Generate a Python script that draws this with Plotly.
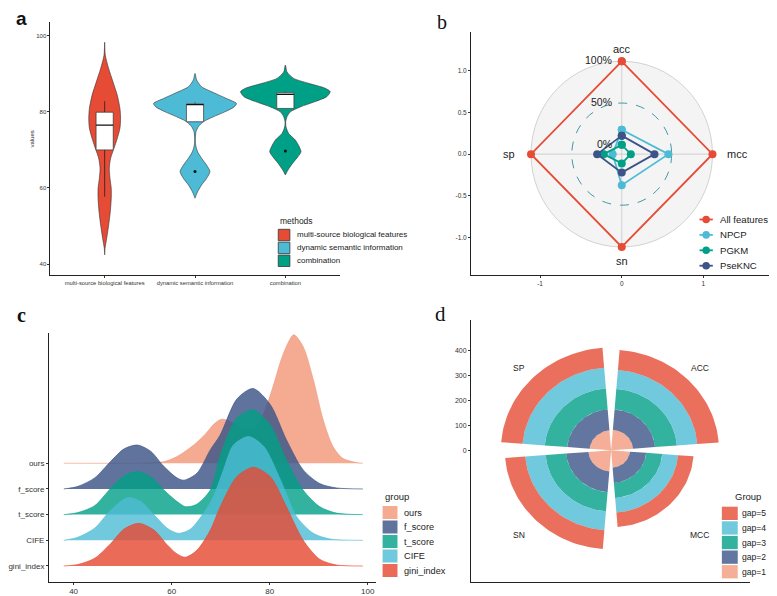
import numpy as np
import plotly.graph_objects as go

# the page body adds an 8px margin, so the figure is placed at (8, 8) of the window
OFF = 8
W, H = 777 - OFF, 596 - OFF
def px(x): return (x - OFF) / W
def py(y): return 1 - (y - OFF) / H

FONT = "Liberation Sans, Arial, sans-serif"
SERIF = "Liberation Serif, Times New Roman, serif"

# ---------------- Panel a : violins + boxes ----------------
methods = ["multi-source biological features", "dynamic semantic information", "combination"]
method_colors = ["#E64B35", "#4DBBD5", "#00A087"]
# violin outlines: value levels (top->bottom) and half widths (x units)
red_levels = [98.3, 94.9, 91.4, 87.9, 84.4, 80.9, 78.3, 75.7, 73.0, 70.4, 67.8, 65.2, 62.5, 59.9, 57.3, 53.7, 50.2, 46.7, 44.1, 42.4]
red_halfw = [0, 0.007, 0.044, 0.092, 0.139, 0.169, 0.176, 0.169, 0.139, 0.103, 0.066, 0.051, 0.059, 0.073, 0.073, 0.062, 0.044, 0.022, 0.004, 0]
blue_levels = [90.1, 88.4, 86.6, 84.9, 83.5, 82.2, 81.3, 80.0, 78.7, 77.4, 76.1, 74.8, 73.0, 71.3, 69.5, 67.8, 66.0, 64.3, 62.5, 60.8, 59.0, 57.3]
blue_halfw = [0, 0.018, 0.073, 0.220, 0.349, 0.459, 0.433, 0.330, 0.202, 0.092, 0.037, 0.011, 0.004, 0.007, 0.029, 0.073, 0.128, 0.165, 0.128, 0.073, 0.029, 0]
green_levels = [92.3, 90.5, 88.8, 87.5, 86.2, 85.3, 84.0, 82.7, 81.3, 80.0, 78.7, 77.4, 76.1, 74.3, 72.6, 70.8, 69.5, 68.2, 66.5, 64.7, 63.4]
green_halfw = [0, 0.018, 0.092, 0.257, 0.441, 0.496, 0.459, 0.330, 0.165, 0.055, 0.018, 0.004, 0.007, 0.037, 0.110, 0.154, 0.173, 0.139, 0.081, 0.029, 0]
box_q1 = [70.0, 77.4, 80.9]
box_median = [76.5, 81.9, 84.6]
box_q3 = [79.9, 82.1, 85.0]
box_lower = [57.7, 77.4, 80.9]
box_upper = [82.8, 82.5, 85.3]
outlier_x = [1, 2]
outlier_y = [64.3, 69.7]
BOX_HALF = 0.095

# ---------------- Panel b : radar ----------------
radar_axes = ["acc", "mcc", "sn", "sp"]
radar_series = ["All features", "NPCP", "PGKM", "PseKNC"]
radar_colors = ["#E64B35", "#4DBBD5", "#00A087", "#3C5488"]
all_features = [1.0, 1.0, 1.0, 1.0]
npcp = [0.18, 0.46, 0.26, 0.0]
pgkm = [0.0, 0.0, 0.0, 0.11]
pseknc = [0.11, 0.29, 0.11, 0.19]
radar_values = [all_features, npcp, pgkm, pseknc]

# ---------------- Panel c : ridgelines ----------------
ridge_groups = ["ours", "f_score", "t_score", "CIFE", "gini_index"]
ridge_colors = ["rgba(243,155,127,0.85)", "rgba(60,84,136,0.82)", "rgba(0,160,135,0.8)",
                "rgba(77,187,213,0.8)", "rgba(230,75,53,0.82)"]
ours_x = [38, 50, 55, 58.4, 61.1, 64.5, 66.8, 68.6, 70.1, 71.6, 73.2, 75, 77, 79, 81.1, 82.1, 83.4, 84.9, 86.8, 88.9, 90.9, 92.9, 94.9, 97.6, 99]
ours_h = [0, 0, 0.01, 0.06, 0.26, 0.71, 1.12, 1.52, 1.71, 1.66, 1.48, 1.30, 1.36, 2.05, 3.25, 3.9, 4.55, 5.0, 4.55, 3.25, 1.69, 0.65, 0.19, 0.03, 0]
f_x = [38, 40.9, 44.3, 47.6, 50.3, 53.0, 55.7, 58.4, 61.1, 62.5, 65.2, 67.9, 69.9, 73.3, 76.6, 80.1, 83.4, 86.8, 90.2, 93.6, 99]
f_h = [0, 0.10, 0.43, 1.08, 1.56, 1.71, 1.47, 0.88, 0.43, 0.34, 0.62, 1.53, 2.1, 3.5, 3.91, 3.29, 1.92, 0.75, 0.21, 0.04, 0]
t_x = [38, 40.9, 44.3, 47.6, 50.3, 53.0, 55.7, 58.4, 61.1, 62.8, 64.9, 67.9, 69.9, 73.3, 76.6, 80.1, 83.4, 86.8, 90.2, 93.6, 99]
t_h = [0, 0.08, 0.35, 1.03, 1.51, 1.68, 1.48, 0.96, 0.51, 0.31, 0.38, 0.96, 2.3, 3.75, 4.08, 3.49, 2.13, 0.96, 0.31, 0.06, 0]
cife_x = [38, 40.9, 44.3, 47.6, 51.0, 53.7, 56.4, 59.1, 61.4, 63.8, 66.5, 68.5, 70.5, 72.6, 75.7, 78.8, 82.2, 85.5, 88.9, 92.3, 99]
cife_h = [0, 0.12, 0.47, 1.18, 1.66, 1.51, 0.99, 0.47, 0.27, 0.43, 1.05, 1.70, 2.7, 3.71, 4.04, 3.65, 2.35, 0.92, 0.27, 0.05, 0]
gini_x = [38, 40.9, 44.3, 47.6, 50.3, 53.3, 56.4, 59.1, 61.1, 62.8, 65.2, 67.9, 69.9, 73.3, 76.7, 80.1, 83.4, 86.8, 90.2, 93.6, 99]
gini_h = [0, 0.06, 0.30, 0.88, 1.44, 1.66, 1.40, 0.82, 0.47, 0.34, 0.62, 1.40, 2.3, 3.48, 3.84, 3.48, 2.31, 1.01, 0.26, 0.04, 0]
ridge_x = [ours_x, f_x, t_x, cife_x, gini_x]
ridge_h = [ours_h, f_h, t_h, cife_h, gini_h]
ridge_base = [5, 4, 3, 2, 1]

# ---------------- Panel d : stacked polar bars ----------------
metrics_d = ["ACC", "MCC", "SN", "SP"]
gap_groups = ["gap=1", "gap=2", "gap=3", "gap=4", "gap=5"]
gap_colors = ["rgba(243,155,127,0.8)", "rgba(60,84,136,0.8)", "rgba(0,160,135,0.8)",
              "rgba(77,187,213,0.8)", "rgba(230,75,53,0.8)"]
gap1 = [82, 70, 85, 80]
gap2 = [82, 61, 83, 84]
gap3 = [82, 60, 77, 84]
gap4 = [76, 59, 76, 83]
gap5 = [80, 58, 75, 80]
gap_values = [gap1, gap2, gap3, gap4, gap5]

fig = go.Figure()

# ---- panel a traces
for i, (lv, hw) in enumerate([(red_levels, red_halfw), (blue_levels, blue_halfw), (green_levels, green_halfw)]):
    xs = [i + w for w in hw] + [i - w for w in hw[::-1]]
    ys = list(lv) + list(lv[::-1])
    fig.add_trace(go.Scatter(x=xs, y=ys, mode="lines", fill="toself", fillcolor=method_colors[i],
                             line=dict(color="#333333", width=0.6, shape="spline", smoothing=0.7),
                             xaxis="x", yaxis="y", showlegend=False, hoverinfo="skip"))
# whiskers
wx, wy = [], []
for i in range(3):
    wx += [i, i, None, i, i, None]
    wy += [box_q3[i], box_upper[i], None, box_q1[i], box_lower[i], None]
fig.add_trace(go.Scatter(x=wx, y=wy, mode="lines", line=dict(color="#222", width=0.8),
                         xaxis="x", yaxis="y", showlegend=False, hoverinfo="skip"))
# boxes
for i in range(3):
    fig.add_trace(go.Scatter(x=[i - BOX_HALF, i + BOX_HALF, i + BOX_HALF, i - BOX_HALF, i - BOX_HALF],
                             y=[box_q1[i], box_q1[i], box_q3[i], box_q3[i], box_q1[i]],
                             mode="lines", fill="toself", fillcolor="white",
                             line=dict(color="#333333", width=0.7),
                             xaxis="x", yaxis="y", showlegend=False, hoverinfo="skip"))
mx, my = [], []
for i, m in enumerate(box_median):
    mx += [i - BOX_HALF, i + BOX_HALF, None]
    my += [m, m, None]
fig.add_trace(go.Scatter(x=mx, y=my, mode="lines", line=dict(color="#111", width=1.4),
                         xaxis="x", yaxis="y", showlegend=False, hoverinfo="skip"))
fig.add_trace(go.Scatter(x=outlier_x, y=outlier_y, mode="markers", marker=dict(color="#111", size=3),
                         xaxis="x", yaxis="y", showlegend=False, hoverinfo="skip"))

# ---- panel b traces
off = 1 / 9
angles = np.deg2rad([0, 90, 180, 270])
for name, vals, col in zip(radar_series, radar_values, radar_colors):
    r = np.array(vals) + off
    xs = list(r * np.sin(angles)) + [r[0] * np.sin(angles[0])]
    ys = list(r * np.cos(angles)) + [r[0] * np.cos(angles[0])]
    fig.add_trace(go.Scatter(x=xs, y=ys, mode="lines+markers", line=dict(color=col, width=1.8),
                             marker=dict(color=col, size=8), xaxis="x2", yaxis="y2",
                             showlegend=False, hoverinfo="skip"))

# ---- panel c traces
for g, xs, hs, b, col in zip(ridge_groups, ridge_x, ridge_h, ridge_base, ridge_colors):
    fig.add_trace(go.Scatter(x=[xs[0], xs[-1]], y=[b, b], mode="lines", line=dict(width=0),
                             xaxis="x3", yaxis="y3", showlegend=False, hoverinfo="skip"))
    fig.add_trace(go.Scatter(x=xs, y=[b + h for h in hs], mode="lines", fill="tonexty", fillcolor=col,
                             line=dict(color=col, width=0.8, shape="spline", smoothing=0.8),
                             xaxis="x3", yaxis="y3", showlegend=False, hoverinfo="skip"))

# ---- panel d traces
cum = np.zeros(4)
for gi, vals in enumerate(gap_values):
    for k in range(4):
        r0, r1 = cum[k], cum[k] + vals[k]
        c = 45 + 90 * k
        th = np.deg2rad(np.linspace(c - 40.5, c + 40.5, 40))
        xs = list(r1 * np.sin(th)) + list(r0 * np.sin(th[::-1]))
        ys = list(r1 * np.cos(th)) + list(r0 * np.cos(th[::-1]))
        fig.add_trace(go.Scatter(x=xs, y=ys, mode="lines", fill="toself", fillcolor=gap_colors[gi],
                                 line=dict(width=0), xaxis="x4", yaxis="y4",
                                 showlegend=False, hoverinfo="skip"))
    cum += np.array(vals)

# ---------------- axes ----------------
base = dict(showline=True, linecolor="#222", linewidth=1, showgrid=False, zeroline=False,
            ticks="outside", ticklen=2, tickcolor="#333", tickwidth=0.8, fixedrange=True)
lay = dict(
    xaxis=dict(base, domain=[px(45.7), px(336.7)], range=[-0.6, 2.6], tickvals=[0, 1, 2],
               ticktext=methods, tickfont=dict(size=5.8, color="#333"), anchor="y"),
    yaxis=dict(base, domain=[py(275.3), py(21.7)], range=[37.03, 103.7], tickvals=[40, 60, 80, 100],
               tickfont=dict(size=6, color="#333"), anchor="x"),
    xaxis2=dict(base, domain=[px(469), px(770)], range=[-1.846, 1.816], tickvals=[-1, 0, 1],
                ticktext=["-1", "0", "1"], tickfont=dict(size=6.5, color="#333"), anchor="y2"),
    yaxis2=dict(base, domain=[py(275.3), py(31.7)], range=[-1.45, 1.465], tickvals=[-1, -0.5, 0, 0.5, 1],
                ticktext=["-1.0", "-0.5", "0.0", "0.5", "1.0"], tickfont=dict(size=6.5, color="#333"), anchor="x2"),
    xaxis3=dict(base, domain=[px(44.3), px(373)], range=[35.0, 101.6], tickvals=[40, 60, 80, 100],
                tickfont=dict(size=8, color="#333"), anchor="y3"),
    yaxis3=dict(base, domain=[py(581.7), py(333.3)], range=[0.388, 10.06], tickvals=[1, 2, 3, 4, 5],
                ticktext=ridge_groups[::-1], tickfont=dict(size=8, color="#333"), anchor="x3"),
    xaxis4=dict(base, domain=[px(469), px(750)], range=[-522, 518], ticks="", showticklabels=False, anchor="y4"),
    yaxis4=dict(base, domain=[py(581.7), py(320)], range=[-525.6, 521], tickvals=[0, 100, 200, 300, 400],
                tickfont=dict(size=7, color="#333"), anchor="x4"),
)

shapes = []
# radar background
R = 1 + off
shapes.append(dict(type="circle", xref="x2", yref="y2", x0=-R, x1=R, y0=-R, y1=R,
                   fillcolor="#F4F4F4", line=dict(color="#C8C8C8", width=0.8), layer="below"))
shapes.append(dict(type="line", xref="x2", yref="y2", x0=0, x1=0, y0=-R, y1=R,
                   line=dict(color="#C8C8C8", width=0.8), layer="below"))
shapes.append(dict(type="line", xref="x2", yref="y2", x0=-R, x1=R, y0=0, y1=0,
                   line=dict(color="#C8C8C8", width=0.8), layer="below"))
Rm = 0.5 + off
shapes.append(dict(type="circle", xref="x2", yref="y2", x0=-Rm, x1=Rm, y0=-Rm, y1=Rm,
                   line=dict(color="#2E8F9C", width=0.9, dash="dash"), layer="below"))

def rect(x0, y0, x1, y1, fill, line=None):
    return dict(type="rect", xref="paper", yref="paper", x0=px(x0), x1=px(x1), y0=py(y1), y1=py(y0),
                fillcolor=fill, line=dict(color=line if line else "rgba(0,0,0,0)", width=0.8 if line else 0),
                layer="above")

ann = []
def txt(x, y, s, size, anchor="left", color="#222", family=FONT, angle=0):
    ann.append(dict(xref="paper", yref="paper", x=px(x), y=py(y), text=s, showarrow=False,
                    xanchor=anchor, yanchor="middle", textangle=angle,
                    font=dict(size=size, color=color, family=family)))

# legend a
txt(275, 221, "methods", 8.5)
for i, (m, c) in enumerate(zip(methods, method_colors)):
    y0 = 229.3 + 12.9 * i
    shapes.append(rect(275, y0, 286.7, y0 + 11.4, c, "#333333"))
    txt(291.5, y0 + 5.7, m, 8)
txt(26.7, 139, "values", 6, anchor="center", angle=-90)

# legend b
for i, (n, c) in enumerate(zip(radar_series, radar_colors)):
    y = 219.5 + 15.4 * i
    shapes.append(dict(type="line", xref="paper", yref="paper", x0=px(699), x1=px(712.4), y0=py(y), y1=py(y),
                       line=dict(color=c, width=1.8)))
    shapes.append(dict(type="circle", xref="paper", yref="paper", x0=px(705.7 - 3.8), x1=px(705.7 + 3.8),
                       y0=py(y + 3.8), y1=py(y - 3.8), fillcolor=c, line=dict(width=0)))
    txt(717.5, y, n, 9.6)

# radar labels
for lab, (x, y) in zip(radar_axes, [(0, 1.26), (1.42, 0), (0, -1.28), (-1.38, 0)]):
    ann.append(dict(xref="x2", yref="y2", x=x, y=y, text=lab, showarrow=False, xanchor="center",
                    yanchor="middle", font=dict(size=11, color="#222", family=FONT)))
for lab, r in zip(["100%", "50%", "0%"], [1.0, 0.5, 0.0]):
    ann.append(dict(xref="x2", yref="y2", x=-0.1, y=r + off + 0.01, text=lab, showarrow=False, xanchor="right",
                    yanchor="middle", font=dict(size=10.5, color="#222", family=FONT)))

# legend c
txt(380, 496, "group", 9.5)
for i, (g, c) in enumerate(zip(ridge_groups, ridge_colors)):
    y0 = 506 + 14.5 * i
    shapes.append(rect(380, y0, 395, y0 + 13, c))
    txt(399.3, y0 + 6.5, g, 9.2)

# legend d
txt(733, 496.7, "Group", 9.5)
for i, gi in enumerate(range(4, -1, -1)):
    y0 = 506.7 + 14.6 * i
    shapes.append(rect(721.5, y0, 737.5, y0 + 13.3, gap_colors[gi]))
    txt(740, y0 + 6.6, gap_groups[gi], 8.6)

# panel d labels
for lab, (x, y) in zip(metrics_d, [(330, 328), (330, -339), (-344, -339), (-344, 328)]):
    ann.append(dict(xref="x4", yref="y4", x=x, y=y, text=lab, showarrow=False, xanchor="center",
                    yanchor="middle", font=dict(size=8.5, color="#222", family=FONT)))

# panel letters
txt(17, 18, "<b>a</b>", 19, anchor="center", color="#111", family="Liberation Sans, Arial")
txt(440, 22, "b", 20, anchor="center", color="#111", family=SERIF)
txt(17, 315, "<b>c</b>", 20, anchor="center", color="#111", family=SERIF)
txt(438.3, 314, "d", 21, anchor="center", color="#111", family=SERIF)

fig.update_layout(width=W, height=H, margin=dict(l=0, r=0, t=0, b=0), paper_bgcolor="white",
                  plot_bgcolor="white", font=dict(family=FONT, color="#222"), showlegend=False,
                  shapes=shapes, annotations=ann, **lay)
fig.write_html("out.html")
